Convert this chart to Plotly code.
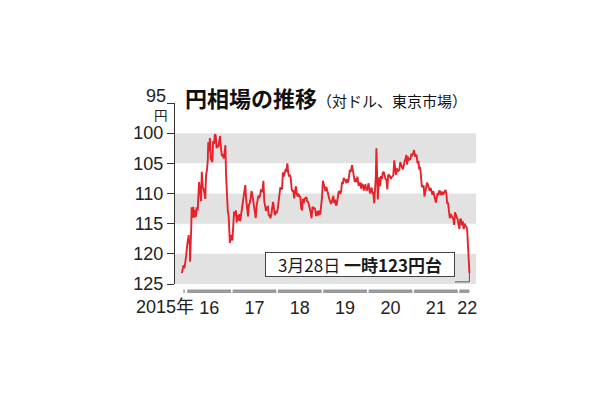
import plotly.graph_objects as go

# ---- data (USD/JPY, Tokyo market) ----
dates = [
    "2015-11-24","2015-12-01","2015-12-08","2015-12-15","2015-12-22","2015-12-29",
    "2016-01-06","2016-01-12","2016-01-18","2016-01-22","2016-01-26","2016-01-29",
    "2016-02-03","2016-02-08","2016-02-11","2016-02-17","2016-02-24","2016-03-02",
    "2016-03-09","2016-03-16","2016-03-23","2016-03-31","2016-04-05","2016-04-11",
    "2016-04-19","2016-04-27","2016-05-03","2016-05-10","2016-05-17","2016-05-25",
    "2016-05-31","2016-06-06","2016-06-14","2016-06-20","2016-06-24","2016-06-30",
    "2016-07-07","2016-07-14","2016-07-20","2016-07-27","2016-08-02","2016-08-10",
    "2016-08-16","2016-08-23","2016-08-30","2016-09-06","2016-09-13","2016-09-21",
    "2016-09-27","2016-10-04","2016-10-12","2016-10-19","2016-10-26","2016-11-02",
    "2016-11-09","2016-11-14","2016-11-21","2016-11-28","2016-12-05","2016-12-09",
    "2016-12-15","2016-12-21","2016-12-28",
    "2017-01-04","2017-01-11","2017-01-18","2017-01-25","2017-02-01","2017-02-08",
    "2017-02-15","2017-02-22","2017-03-01","2017-03-08","2017-03-15","2017-03-22",
    "2017-03-29","2017-04-05","2017-04-12","2017-04-18","2017-04-25","2017-05-02",
    "2017-05-10","2017-05-17","2017-05-24","2017-05-31","2017-06-07","2017-06-14",
    "2017-06-21","2017-06-28","2017-07-05","2017-07-11","2017-07-18","2017-07-25",
    "2017-08-01","2017-08-08","2017-08-15","2017-08-22","2017-08-29","2017-09-05",
    "2017-09-11","2017-09-18","2017-09-25","2017-10-02","2017-10-10","2017-10-17",
    "2017-10-24","2017-10-31","2017-11-06","2017-11-14","2017-11-21","2017-11-28",
    "2017-12-05","2017-12-12","2017-12-19","2017-12-26",
    "2018-01-04","2018-01-11","2018-01-18","2018-01-25","2018-02-01","2018-02-08",
    "2018-02-15","2018-02-22","2018-03-01","2018-03-08","2018-03-15","2018-03-23",
    "2018-03-29","2018-04-05","2018-04-12","2018-04-19","2018-04-26","2018-05-03",
    "2018-05-10","2018-05-17","2018-05-24","2018-05-31","2018-06-07","2018-06-14",
    "2018-06-21","2018-06-28","2018-07-05","2018-07-12","2018-07-19","2018-07-26",
    "2018-08-02","2018-08-09","2018-08-16","2018-08-23","2018-08-30","2018-09-06",
    "2018-09-13","2018-09-20","2018-09-27","2018-10-04","2018-10-11","2018-10-18",
    "2018-10-25","2018-11-01","2018-11-08","2018-11-15","2018-11-22","2018-11-29",
    "2018-12-06","2018-12-13","2018-12-20","2018-12-27",
    "2019-01-03","2019-01-10","2019-01-17","2019-01-24","2019-01-31","2019-02-07",
    "2019-02-14","2019-02-21","2019-02-28","2019-03-07","2019-03-14","2019-03-21",
    "2019-03-28","2019-04-04","2019-04-11","2019-04-18","2019-04-25","2019-05-09",
    "2019-05-16","2019-05-23","2019-05-30","2019-06-06","2019-06-13","2019-06-20",
    "2019-06-27","2019-07-04","2019-07-11","2019-07-18","2019-07-25","2019-08-01",
    "2019-08-08","2019-08-15","2019-08-26","2019-09-02","2019-09-09","2019-09-17",
    "2019-09-24","2019-10-01","2019-10-08","2019-10-17","2019-10-24","2019-10-31",
    "2019-11-07","2019-11-14","2019-11-21","2019-11-28","2019-12-05","2019-12-12",
    "2019-12-19","2019-12-26",
    "2020-01-06","2020-01-16","2020-01-23","2020-01-30","2020-02-06","2020-02-13",
    "2020-02-20","2020-02-27","2020-03-04","2020-03-09","2020-03-13","2020-03-20",
    "2020-03-26","2020-04-01","2020-04-08","2020-04-15","2020-04-22","2020-04-29",
    "2020-05-07","2020-05-14","2020-05-21","2020-05-28","2020-06-05","2020-06-11",
    "2020-06-18","2020-06-25","2020-07-02","2020-07-09","2020-07-16","2020-07-23",
    "2020-07-31","2020-08-06","2020-08-13","2020-08-20","2020-08-27","2020-09-03",
    "2020-09-10","2020-09-17","2020-09-24","2020-10-01","2020-10-08","2020-10-15",
    "2020-10-22","2020-10-29","2020-11-05","2020-11-11","2020-11-18","2020-11-25",
    "2020-12-02","2020-12-09","2020-12-16","2020-12-23","2020-12-30",
    "2021-01-06","2021-01-13","2021-01-20","2021-01-27","2021-02-03","2021-02-10",
    "2021-02-17","2021-02-24","2021-03-03","2021-03-10","2021-03-17","2021-03-24",
    "2021-03-31","2021-04-07","2021-04-14","2021-04-21","2021-04-28","2021-05-06",
    "2021-05-13","2021-05-20","2021-05-27","2021-06-03","2021-06-10","2021-06-17",
    "2021-06-24","2021-07-01","2021-07-08","2021-07-15","2021-07-22","2021-07-29",
    "2021-08-05","2021-08-12","2021-08-19","2021-08-26","2021-09-02","2021-09-09",
    "2021-09-16","2021-09-23","2021-09-30","2021-10-07","2021-10-14","2021-10-21",
    "2021-10-28","2021-11-04","2021-11-11","2021-11-18","2021-11-25","2021-12-02",
    "2021-12-09","2021-12-16","2021-12-23","2021-12-30",
    "2022-01-06","2022-01-13","2022-01-20","2022-01-27","2022-02-03","2022-02-10",
    "2022-02-17","2022-02-24","2022-03-03","2022-03-10","2022-03-15","2022-03-22",
    "2022-03-28",
]
yen = [
    123.2,122.6,121.9,122.4,120.6,120.3,
    118.6,117.6,116.9,118.3,117.7,121.3,
    119.5,115.6,112.3,114.0,112.2,114.0,
    112.7,113.9,112.3,112.8,110.5,108.1,
    109.5,111.3,106.4,108.9,109.2,110.3,
    110.9,106.9,106.0,104.5,101.5,103.0,
    100.8,104.2,104.5,104.8,101.3,101.8,
    100.2,100.4,102.5,101.9,102.3,100.6,
    100.5,102.5,103.8,103.5,104.2,103.2,
    102.0,106.8,110.7,112.8,113.8,115.5,
    118.2,117.3,116.9,
    117.8,115.7,113.0,113.6,112.8,114.8,
    113.6,114.5,113.4,114.6,113.5,111.9,
    111.2,110.6,109.1,108.6,111.0,112.6,
    113.8,111.9,111.6,110.8,109.6,110.2,
    111.3,112.4,113.3,114.1,112.1,111.3,
    110.4,110.6,110.4,109.3,109.8,109.2,
    107.9,111.3,112.4,112.9,112.3,112.2,
    113.6,113.6,114.1,113.5,112.3,111.4,
    112.5,113.6,112.9,113.3,
    112.6,111.3,110.9,109.0,109.2,109.3,
    106.5,107.2,106.6,106.1,106.2,105.0,
    106.4,107.2,106.9,107.4,109.2,109.6,
    109.6,110.8,109.6,108.8,110.1,110.5,
    110.2,110.4,110.6,112.4,112.8,110.9,
    111.6,110.9,110.7,110.6,111.3,111.4,
    111.9,112.4,113.2,114.1,112.2,112.5,
    112.4,112.6,113.6,113.6,112.9,113.6,
    112.8,113.5,112.2,110.6,
    107.9,108.4,109.2,109.6,108.9,109.7,
    110.5,110.7,111.2,111.6,111.5,110.6,
    110.4,111.6,111.0,112.0,111.8,109.8,
    109.6,110.1,109.6,108.1,108.4,107.4,
    107.8,107.8,108.3,107.6,108.2,107.3,
    106.1,106.4,105.3,106.2,106.9,108.1,
    107.5,108.1,107.2,108.6,108.6,108.2,
    109.2,108.5,108.6,109.5,108.7,108.6,
    109.4,109.4,
    108.3,110.0,109.5,109.0,109.9,109.8,
    111.6,109.8,107.3,102.5,107.5,111.0,
    109.0,107.3,108.8,107.1,107.6,106.6,
    106.4,107.1,107.6,107.7,109.3,107.0,
    106.9,107.1,107.6,107.3,107.2,107.0,
    104.5,105.6,106.9,105.8,106.4,106.2,
    106.1,104.8,105.4,105.6,106.0,105.1,
    104.7,104.3,103.6,105.2,103.9,104.5,
    104.3,104.2,103.4,103.6,103.3,
    102.8,103.9,103.6,103.7,105.0,104.6,
    106.0,105.6,107.1,108.8,108.9,108.7,
    110.5,109.8,108.9,108.2,108.6,109.2,
    109.6,109.1,109.8,110.2,109.6,110.6,
    110.9,111.5,110.2,109.9,110.3,109.5,
    109.7,110.3,109.7,110.1,110.0,109.7,
    109.4,110.0,111.6,111.6,113.6,114.1,
    113.4,113.8,114.0,114.2,115.2,113.1,
    113.5,113.7,114.3,115.1,
    115.9,114.3,114.3,115.3,114.6,115.9,
    115.0,115.4,115.5,116.0,118.4,120.8,
    123.2,
]

y_ticks = [95, 100, 105, 110, 115, 120, 125]
y_tick_labels = ["", "100", "105", "110", "115", "120", "125"]
years = [2016, 2017, 2018, 2019, 2020, 2021, 2022]
x_tick_pos = ["2016-07-01", "2017-07-01", "2018-07-01", "2019-07-01",
              "2020-07-01", "2021-07-01", "2022-03-10"]
x_tick_labels = ["16", "17", "18", "19", "20", "21", "22"]

LATIN = "Liberation Sans, Arial, Noto Sans CJK JP"
CJK = "Noto Sans CJK JP, Liberation Sans"
RED = "#e6222b"

fig = go.Figure()
fig.add_trace(go.Scatter(x=dates, y=yen, mode="lines",
                         line=dict(color=RED, width=1.9), hoverinfo="skip",
                         showlegend=False))

shapes = []
# gray bands
for lo in (100, 110, 120):
    shapes.append(dict(type="rect", xref="paper", yref="y", x0=0, x1=1,
                       y0=lo, y1=lo + 5, fillcolor="#e2e2e2",
                       line=dict(width=0), layer="below"))
# year bars under the plot
seg_y = -0.04
for yr in years:
    end = f"{yr}-12-24" if yr < 2022 else dates[-1]
    shapes.append(dict(type="line", xref="x", yref="paper",
                       x0=f"{yr}-01-06", x1=end, y0=seg_y, y1=seg_y,
                       line=dict(color="#9a9a9a", width=3.5)))
shapes.append(dict(type="line", xref="x", yref="paper",
                   x0="2015-12-06", x1="2015-12-18", y0=seg_y, y1=seg_y,
                   line=dict(color="#9a9a9a", width=3.5)))
# connector from callout to last point
shapes.append(dict(type="line", xref="x", yref="y", x0=dates[-1], x1=dates[-1],
                   y0=yen[-1], y1=124.65, line=dict(color="#555", width=1)))
shapes.append(dict(type="line", xref="x", yref="y", x0="2021-12-02", x1=dates[-1],
                   y0=124.65, y1=124.65, line=dict(color="#555", width=1)))

annotations = [
    dict(xref="paper", yref="paper", x=0.028, y=1.032, xanchor="left",
         yanchor="middle", showarrow=False,
         text="<b>円相場の推移</b><span style='font-size:15px'>（対ドル、東京市場）</span>",
         font=dict(family=CJK, size=22, color="#111")),
    dict(xref="paper", yref="y", x=-0.027, y=95, xanchor="right",
         yanchor="middle", yshift=7, showarrow=False, text="95",
         height=14, borderpad=0,
         font=dict(family=LATIN, size=18, color="#222")),
    dict(xref="paper", yref="y", x=-0.047, y=95, xanchor="center",
         yanchor="middle", yshift=-12, showarrow=False, text="円",
         height=14, borderpad=0,
         font=dict(family=CJK, size=13.5, color="#222")),
    dict(xref="x", yref="paper", x="2016-03-20", y=-0.125, xanchor="right",
         yanchor="middle", showarrow=False, text="2015年",
         font=dict(family=LATIN, size=18, color="#222")),
    dict(xref="paper", yref="paper", x=0.6146, y=0.11, xanchor="center",
         yanchor="middle", showarrow=False,
         text="3月28日 <b>一時123円台</b>",
         font=dict(family=CJK, size=17, color="#1a1a1a"),
         bgcolor="white", bordercolor="#444", borderwidth=1, borderpad=1,
         width=186, height=21),
]

fig.update_layout(
    width=602, height=392, autosize=False,
    margin=dict(l=167, r=134, t=95, b=116),
    paper_bgcolor="white", plot_bgcolor="white",
    shapes=shapes, annotations=annotations, showlegend=False,
    xaxis=dict(type="date", range=["2015-09-30", "2022-05-20"],
               showgrid=False, zeroline=False, showline=False, ticks="",
               tickvals=x_tick_pos, ticktext=x_tick_labels,
               tickfont=dict(family=LATIN, size=18, color="#222"),
               ticklabelstandoff=11, fixedrange=True),
    yaxis=dict(range=[125, 95], tickvals=y_ticks, ticktext=y_tick_labels,
               showgrid=False, zeroline=False, showline=True,
               linecolor="#333", linewidth=1, ticks="outside", ticklen=7,
               tickcolor="#333", tickwidth=1,
               tickfont=dict(family=LATIN, size=18, color="#222"),
               fixedrange=True),
)

fig.write_html("out.html")
